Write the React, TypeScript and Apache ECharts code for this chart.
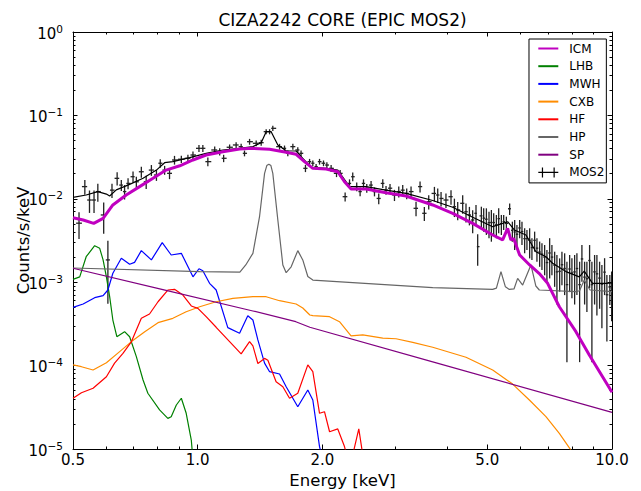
import React, { useEffect, useRef } from 'react';
import * as echarts from 'echarts';

// ---------- tick definitions ----------
const xMajorTicks = [0.5, 1, 2, 5, 10];
const xMajorLabels = ['0.5', '1.0', '2.0', '5.0', '10.0'];
const xMinorTicks = [0.6, 0.7, 0.8, 0.9, 3, 4, 6, 7, 8, 9];
const yDecades = [-5, -4, -3, -2, -1, 0];
const yDecadeLabels = ['−5', '−4', '−3', '−2', '−1', '0'];
const yMinorMultipliers = [2, 3, 4, 5, 6, 7, 8, 9];

// ---------- model components (energy keV, counts/s/keV) ----------
const icmE = [0.5, 0.529, 0.561, 0.591, 0.624, 0.672, 0.724, 0.78, 0.839, 0.905, 0.974, 1.048, 1.15, 1.262, 1.359, 1.491, 1.635, 1.728, 1.81, 1.896, 2.042, 2.178, 2.261, 2.345, 2.549, 2.848, 3.183, 3.692, 4.126, 4.61, 5.152, 5.446, 5.599, 5.7, 5.789, 5.985, 6.327, 6.677, 6.992, 7.462, 8.183, 8.815, 10];
const icmV = [5.93e-3, 5.57e-3, 5.08e-3, 5.83e-3, 8.43e-3, 1.11e-2, 1.4e-2, 1.76e-2, 2.21e-2, 2.49e-2, 2.92e-2, 3.35e-2, 3.67e-2, 3.96e-2, 4.03e-2, 3.92e-2, 3.61e-2, 3.42e-2, 2.79e-2, 2.32e-2, 2.28e-2, 2.11e-2, 1.6e-2, 1.31e-2, 1.31e-2, 1.18e-2, 1.08e-2, 8.43e-3, 6.7e-3, 5.08e-3, 3.68e-3, 3.21e-3, 4.43e-3, 3.21e-3, 3.34e-3, 2.12e-3, 1.61e-3, 1.27e-3, 9.7e-4, 5.08e-4, 2.55e-4, 1.34e-4, 4.8e-5];

const lhbE = [0.5, 0.519, 0.538, 0.564, 0.58, 0.591, 0.602, 0.613, 0.624, 0.638, 0.666, 0.685, 0.711, 0.738, 0.758, 0.809, 0.847, 0.863, 0.888, 0.913, 0.938, 0.965, 0.974];
const lhbV = [1.08e-3, 1.16e-3, 2.02e-3, 2.74e-3, 2.55e-3, 1.85e-3, 1.16e-3, 6.7e-4, 3.52e-4, 2.22e-4, 2.55e-4, 2.22e-4, 1.28e-4, 6.72e-5, 4.66e-5, 2.94e-5, 2.33e-5, 2.44e-5, 3.37e-5, 4.06e-5, 2.68e-5, 1.28e-5, 7.4e-6];

const mwhE = [0.5, 0.529, 0.564, 0.591, 0.607, 0.624, 0.654, 0.685, 0.704, 0.731, 0.773, 0.821, 0.863, 0.913, 0.974, 1.007, 1.029, 1.068, 1.108, 1.182, 1.262, 1.321, 1.359, 1.397, 1.45, 1.491, 1.576, 1.635, 1.744, 1.844, 1.896, 1.968, 2.004];
const mwhV = [5.0e-4, 5.48e-4, 6.52e-4, 6.89e-4, 8.06e-4, 1.28e-3, 1.94e-3, 1.64e-3, 1.73e-3, 2.39e-3, 1.85e-3, 2.98e-3, 2.12e-3, 2.22e-3, 1.16e-3, 1.45e-3, 1.37e-3, 9.7e-4, 8.06e-4, 2.85e-4, 2.44e-4, 3.96e-4, 3.52e-4, 2.03e-4, 1.07e-4, 8.45e-5, 7.93e-5, 5.58e-5, 3.21e-5, 5.1e-5, 3.87e-5, 1.07e-5, 7.4e-6];

const cxbE = [0.5, 0.524, 0.559, 0.602, 0.648, 0.692, 0.745, 0.802, 0.871, 0.938, 1.011, 1.108, 1.216, 1.359, 1.463, 1.576, 1.728, 1.793, 1.865, 1.896, 2.081, 2.199, 2.345, 2.503, 2.797, 3.011, 3.304, 3.692, 4.442, 5.152, 5.757, 6.317, 6.927, 7.462, 7.959, 8.58];
const cxbV = [1.02e-4, 9.7e-5, 8.85e-5, 1.08e-4, 1.47e-4, 1.94e-4, 2.55e-4, 3.27e-4, 3.69e-4, 4.43e-4, 5.08e-4, 5.83e-4, 6.41e-4, 6.7e-4, 6.7e-4, 6.0e-4, 5.48e-4, 4.91e-4, 4.04e-4, 3.97e-4, 3.86e-4, 3.36e-4, 2.27e-4, 2.33e-4, 2.13e-4, 2.1e-4, 1.9e-4, 1.66e-4, 1.26e-4, 8.85e-5, 6.0e-5, 3.87e-5, 2.44e-5, 1.54e-5, 9.7e-6, 4.2e-6];

const hfE = [0.5, 0.524, 0.559, 0.602, 0.63, 0.66, 0.692, 0.731, 0.765, 0.802, 0.847, 0.879, 0.921, 0.965, 1.001, 1.048, 1.108, 1.194, 1.273, 1.334, 1.359, 1.397, 1.45, 1.477, 1.546, 1.605, 1.666, 1.744, 1.844, 1.896, 1.968, 2.023, 2.081, 2.178, 2.261, 2.303, 2.367, 2.448, 2.503, 2.545];
const hfV = [4.06e-5, 4.73e-5, 5.35e-5, 7.36e-5, 1.07e-4, 1.4e-4, 1.94e-4, 3.69e-4, 4.16e-4, 5.83e-4, 8.06e-4, 8.22e-4, 7.02e-4, 5.19e-4, 4.86e-4, 3.86e-4, 2.88e-4, 1.94e-4, 1.38e-4, 1.94e-4, 1.72e-4, 1.06e-4, 1.22e-4, 1.16e-4, 6.41e-5, 5.58e-5, 4.06e-5, 4.66e-5, 1.02e-4, 8.45e-5, 2.68e-5, 2.8e-5, 1.61e-5, 1.74e-5, 1.07e-5, 7.4e-6, 8.5e-6, 1.74e-5, 8.5e-6, 5.6e-6];

const hpE = [0.5, 1.012, 1.264, 1.306, 1.359, 1.41, 1.45, 1.468, 1.485, 1.502, 1.518, 1.561, 1.605, 1.635, 1.681, 1.744, 1.793, 1.844, 1.896, 3.692, 5.152, 5.26, 5.395, 5.53, 5.652, 5.8, 5.919, 6.086, 6.373, 6.55, 6.677, 8.17, 8.35, 8.57, 8.85, 10];
const hpV = [1.48e-3, 1.34e-3, 1.32e-3, 1.61e-3, 2.22e-3, 6.1e-3, 2.02e-2, 2.5e-2, 2.6e-2, 2.5e-2, 2.02e-2, 5.57e-3, 1.61e-3, 1.3e-3, 1.53e-3, 2.39e-3, 1.85e-3, 1.17e-3, 1.06e-3, 8.6e-4, 8.2e-4, 8.5e-4, 1.34e-3, 8.8e-4, 8.2e-4, 8.3e-4, 1.11e-3, 9.25e-4, 1.61e-3, 9.0e-4, 8.06e-4, 7.7e-4, 7.9e-4, 1.06e-3, 8.06e-4, 7.7e-4];

const spE = [0.5, 0.824, 1.359, 1.725, 1.865, 3.692, 10];
const spV = [1.47e-3, 8.13e-4, 4.52e-4, 3.36e-4, 2.88e-4, 1.11e-4, 2.75e-5];

const modelE = [0.5, 0.538, 0.574, 0.602, 0.613, 0.636, 0.685, 0.738, 0.795, 0.832, 0.871, 0.956, 1.048, 1.15, 1.262, 1.359, 1.423, 1.463, 1.504, 1.561, 1.635, 1.728, 1.793, 1.878, 2.042, 2.178, 2.325, 2.549, 2.848, 3.183, 3.692, 4.126, 4.61, 5.152, 5.599, 5.812, 6.199, 6.327, 6.552, 6.927, 7.189, 7.741, 8.339, 8.57, 8.977, 9.666, 10];
const modelV = [1.04e-2, 1.11e-2, 1.22e-2, 1.14e-2, 1.08e-2, 1.28e-2, 1.49e-2, 1.76e-2, 2.21e-2, 2.71e-2, 2.79e-2, 3.11e-2, 3.51e-2, 3.85e-2, 4.03e-2, 4.22e-2, 4.71e-2, 6.38e-2, 6.38e-2, 4.42e-2, 3.77e-2, 3.74e-2, 3.06e-2, 2.39e-2, 2.32e-2, 2.21e-2, 1.4e-2, 1.4e-2, 1.27e-2, 1.16e-2, 9.54e-3, 7.91e-3, 6.0e-3, 4.63e-3, 5.31e-3, 4.23e-3, 3.68e-3, 3.12e-3, 2.32e-3, 2.02e-3, 1.69e-3, 1.34e-3, 1.16e-3, 1.36e-3, 9.7e-4, 9.7e-4, 9.8e-4];

// ---------- MOS2 data (energy, rate, 1-sigma error) ----------
const mosE = [0.517, 0.534, 0.548, 0.562, 0.574, 0.593, 0.607, 0.621, 0.639, 0.654, 0.666, 0.679, 0.698, 0.711, 0.731, 0.751, 0.773, 0.795, 0.812, 0.832, 0.855, 0.879, 0.913, 0.947, 0.974, 1.007, 1.029, 1.058, 1.099, 1.13, 1.155, 1.194, 1.238, 1.273, 1.297, 1.334, 1.384, 1.423, 1.463, 1.491, 1.518, 1.576, 1.62, 1.65, 1.697, 1.744, 1.776, 1.82, 1.862, 1.896, 1.931, 1.968, 2.012, 2.05, 2.099, 2.163, 2.207, 2.269, 2.325, 2.367, 2.42, 2.466, 2.513, 2.559, 2.621, 2.671, 2.735, 2.797, 2.848, 2.912, 2.985, 3.057, 3.125, 3.195, 3.273, 3.365, 3.441, 3.524, 3.611, 3.727, 3.796, 3.867, 3.974, 4.087, 4.165, 4.242, 4.361, 4.442, 4.527, 4.61, 4.696, 4.74,
  4.838, 4.901, 4.975, 5.048, 5.115, 5.181, 5.259, 5.327, 5.407, 5.477, 5.559, 5.662, 5.748, 5.822, 5.896, 5.986, 6.063, 6.154, 6.233, 6.327, 6.408, 6.505, 6.589, 6.689, 6.775, 6.877, 6.965, 7.071, 7.161, 7.27, 7.363, 7.475, 7.571, 7.686, 7.784, 7.902, 8.003, 8.124, 8.228, 8.353, 8.46, 8.588, 8.698, 8.829, 8.943, 9.078, 9.195, 9.334, 9.454, 9.597, 9.72, 9.88, 9.98];
const mosV = [5.1e-3, 1.4e-2, 9.67e-3, 9.67e-3, 1.22e-2, 6.4e-3, 1.85e-3, 1.27e-2, 1.76e-2, 1.46e-2, 1.22e-2, 1.53e-2, 1.84e-2, 1.6e-2, 2.11e-2, 1.6e-2, 2.21e-2, 1.93e-2, 2.67e-2, 2.21e-2, 2.02e-2, 2.92e-2, 2.98e-2, 3.06e-2, 3.35e-2, 4.03e-2, 4.03e-2, 2.79e-2, 3.85e-2, 3.67e-2, 3.06e-2, 4.15e-2, 4.42e-2, 4.22e-2, 3.51e-2, 4.84e-2, 4.63e-2, 4.71e-2, 6.38e-2, 6.38e-2, 7.0e-2, 4.22e-2, 4.03e-2, 3.51e-2, 4.22e-2, 3.85e-2, 3.51e-2, 2.32e-2, 2.79e-2, 2.67e-2, 2.43e-2, 2.79e-2, 2.67e-2, 2.54e-2, 2.32e-2, 2.02e-2, 2.02e-2, 1.06e-2, 1.53e-2, 1.84e-2, 1.4e-2, 1.22e-2, 1.53e-2, 1.34e-2, 1.46e-2, 1.22e-2, 1.01e-2, 1.53e-2, 1.27e-2, 1.34e-2, 1.11e-2, 1.22e-2, 1.27e-2, 1.16e-2, 1.22e-2, 7.69e-3, 1.4e-2, 6.7e-3, 9.23e-3, 1.16e-2, 1.11e-2, 1.01e-2, 9.67e-3, 1.06e-2, 8.04e-3, 7.34e-3, 8.83e-3, 7.0e-3, 6.4e-3, 5.57e-3, 6.7e-3, 2.67e-3,
  6.24e-3, 5.86e-3, 5.69e-3, 5.18e-3, 5.2e-3, 5.19e-3, 4.88e-3, 5.78e-3, 5.04e-3, 5.32e-3, 5.07e-3, 7.6e-3, 4.19e-3, 4.0e-3, 3.76e-3, 4.47e-3, 4.05e-3, 3.33e-3, 3.33e-3, 3.18e-3, 2.6e-3, 3.18e-3, 2.56e-3, 2.3e-3, 2.17e-3, 2.0e-3, 1.72e-3, 2.24e-3, 2.0e-3, 1.6e-3, 1.33e-3, 1.35e-3, 1.62e-3, 1.46e-3, 9.35e-4, 1.44e-3, 1.29e-3, 1.33e-3, 1.46e-3, 9.35e-4, 1.9e-3, 1.15e-3, 1.1e-3, 1.82e-3, 9.35e-4, 1.33e-3, 1.26e-3, 1.12e-3, 9.45e-4, 1.32e-3, 7.07e-4, 8.77e-4, 8.4e-4];
const mosErr = [1.8e-3, 2.8e-3, 2.9e-3, 2.9e-3, 3.0e-3, 2.6e-3, 1.3e-3, 2.5e-3, 3.2e-3, 2.2e-3, 2.4e-3, 2.3e-3, 2.8e-3, 2.4e-3, 3.2e-3, 2.9e-3, 3.3e-3, 2.9e-3, 3.2e-3, 2.7e-3, 3.0e-3, 3.5e-3, 3.0e-3, 3.1e-3, 3.4e-3, 4.0e-3, 4.0e-3, 3.3e-3, 3.8e-3, 3.7e-3, 3.1e-3, 3.3e-3, 3.5e-3, 3.4e-3, 2.8e-3, 3.9e-3, 3.7e-3, 3.8e-3, 4.5e-3, 4.5e-3, 4.9e-3, 3.4e-3, 3.2e-3, 2.8e-3, 3.4e-3, 3.1e-3, 2.8e-3, 2.3e-3, 2.2e-3, 2.1e-3, 1.9e-3, 2.2e-3, 2.1e-3, 2.0e-3, 2.3e-3, 2.0e-3, 2.0e-3, 1.3e-3, 1.8e-3, 2.2e-3, 1.7e-3, 1.5e-3, 1.8e-3, 1.6e-3, 1.8e-3, 1.5e-3, 1.5e-3, 1.8e-3, 1.5e-3, 1.6e-3, 1.7e-3, 1.8e-3, 1.9e-3, 1.7e-3, 1.8e-3, 1.5e-3, 2.1e-3, 1.3e-3, 1.8e-3, 2.3e-3, 2.2e-3, 2.0e-3, 1.9e-3, 2.1e-3, 2.0e-3, 1.8e-3, 2.2e-3, 1.8e-3, 1.6e-3, 1.7e-3, 1.7e-3, 1.1e-3,
  1.8e-3, 1.83e-3, 2.0e-3, 1.82e-3, 2.14e-3, 1.51e-3, 1.52e-3, 1.92e-3, 1.36e-3, 1.09e-3, 1.04e-3, 1.2e-3, 1.13e-3, 1.57e-3, 1.09e-3, 1.1e-3, 1.26e-3, 1.1e-3, 9.0e-4, 1.25e-3, 7.6e-4, 8.6e-4, 8.0e-4, 7.7e-4, 7.7e-4, 7.9e-4, 7.1e-4, 1.13e-3, 7.9e-4, 7.2e-4, 7.9e-4, 5.8e-4, 7.0e-4, 7.6e-4, 8.25e-4, 6.8e-4, 6.5e-4, 7.9e-4, 7.6e-4, 8.25e-4, 8.9e-4, 6.1e-4, 6.6e-4, 9.7e-4, 8.25e-4, 7.9e-4, 8.6e-4, 6.4e-4, 6.65e-4, 6.2e-4, 5.13e-4, 3.44e-4, 5.0e-4];

const FONT = 'DejaVu Sans';
const L = (v: number) => Math.log10(v);
const pairs = (es: number[], vs: number[]) => es.map((e, i) => [L(e), L(vs[i])]);

export default function App() {
  const ref = useRef<HTMLDivElement>(null);

  useEffect(() => {
    if (!ref.current) return;
    const chart = echarts.init(ref.current, null, { renderer: 'svg' });

    const xMaj = xMajorTicks.map(L);
    const xMin = xMinorTicks.map(L);
    const yMaj = yDecades.slice();
    const yMin: number[] = [];
    yDecades.slice(0, -1).forEach((d) => yMinorMultipliers.forEach((m) => yMin.push(d + L(m))));

    const n = mosE.length;
    const lx = mosE.map(L);
    const mosData = mosE.map((_, i) => {
      const x = lx[i];
      const xl = i > 0 ? (lx[i - 1] + x) / 2 : x - (lx[1] - lx[0]) / 2;
      const xr = i < n - 1 ? (x + lx[i + 1]) / 2 : x + (x - lx[i - 1]) / 2;
      const lo = mosV[i] - mosErr[i];
      return [x, L(mosV[i]), lo > 0 ? L(lo) : -7, L(mosV[i] + mosErr[i]), xl, xr];
    });

    const xBase = {
      type: 'value',
      min: L(0.5),
      max: 1,
      gridIndex: 0,
      splitLine: { show: false },
      axisPointer: { show: false },
    };
    const yBase = {
      type: 'value',
      min: -5,
      max: 0,
      gridIndex: 0,
      splitLine: { show: false },
      axisPointer: { show: false },
    };
    const axisLine = { show: true, onZero: false, lineStyle: { color: '#000', width: 1 } };
    const noLine = { show: false, onZero: false };
    const tick = (vals: number[], len: number) => ({
      show: true,
      inside: true,
      length: len,
      customValues: vals,
      lineStyle: { color: '#000', width: 1 },
    });

    const xFormatter = (v: number) => {
      const i = xMaj.findIndex((t) => Math.abs(t - v) < 1e-6);
      return i >= 0 ? xMajorLabels[i] : '';
    };
    const yFormatter = (v: number) => {
      const i = yMaj.findIndex((t) => Math.abs(t - v) < 1e-6);
      return i >= 0 ? `{b|10}{s|${yDecadeLabels[i]}}` : '';
    };

    const line = (name: string, es: number[], vs: number[], color: string, width: number, z: number) => ({
      name,
      type: 'line',
      data: pairs(es, vs),
      showSymbol: false,
      symbol: 'none',
      lineStyle: { color, width },
      itemStyle: { color },
      clip: true,
      silent: true,
      z,
      emphasis: { disabled: true },
    });

    const lineLegend = (name: string) => ({ name, itemStyle: { opacity: 0 } });

    const option: any = {
      animation: false,
      backgroundColor: '#fff',
      grid: { left: 73, right: 29, top: 32, bottom: 42, containLabel: false, outerBoundsMode: 'none' },
      graphic: [
        {
          type: 'text',
          x: 342.5,
          y: 20,
          style: {
            text: 'CIZA2242 CORE (EPIC MOS2)',
            fontSize: 17,
            fontFamily: FONT,
            fill: '#000',
            align: 'center',
            verticalAlign: 'middle',
          },
        },
      ],
      xAxis: [
        {
          ...xBase,
          position: 'bottom',
          axisLine,
          axisTick: tick(xMaj, 4.5),
          axisLabel: { show: true, customValues: xMaj, formatter: xFormatter, margin: 3, color: '#000', fontSize: 15, fontFamily: FONT },
          name: 'Energy [keV]',
          nameLocation: 'middle',
          nameGap: 23,
          nameTextStyle: { color: '#000', fontSize: 16.5, fontFamily: FONT },
        },
        { ...xBase, position: 'bottom', axisLine: noLine, axisTick: tick(xMin, 2.5), axisLabel: { show: false } },
        { ...xBase, position: 'top', axisLine, axisTick: tick(xMaj, 4.5), axisLabel: { show: false } },
        { ...xBase, position: 'top', axisLine: noLine, axisTick: tick(xMin, 2.5), axisLabel: { show: false } },
      ],
      yAxis: [
        {
          ...yBase,
          position: 'left',
          axisLine,
          axisTick: tick(yMaj, 4.5),
          axisLabel: {
            show: true,
            customValues: yMaj,
            formatter: yFormatter,
            margin: 10,
            color: '#000',
            rich: {
              b: { fontSize: 15, fontFamily: FONT, color: '#000', lineHeight: 18, verticalAlign: 'bottom' },
              s: { fontSize: 10.5, fontFamily: FONT, color: '#000', lineHeight: 12, verticalAlign: 'top' },
            },
          },
          name: 'Counts/s/keV',
          nameLocation: 'middle',
          nameGap: 41,
          nameMoveOverlap: false,
          nameTextStyle: { color: '#000', fontSize: 16.5, fontFamily: FONT },
        },
        { ...yBase, position: 'left', axisLine: noLine, axisTick: tick(yMin, 2.5), axisLabel: { show: false } },
        { ...yBase, position: 'right', axisLine, axisTick: tick(yMaj, 4.5), axisLabel: { show: false } },
        { ...yBase, position: 'right', axisLine: noLine, axisTick: tick(yMin, 2.5), axisLabel: { show: false } },
      ],
      legend: {
        show: true,
        left: 529,
        top: 39,
        orient: 'vertical',
        backgroundColor: '#fff',
        borderColor: '#000',
        borderWidth: 1,
        borderRadius: 0,
        padding: [2.5, 2, 3.5, 8.3],
        itemGap: 3.7,
        itemWidth: 20,
        itemHeight: 12,
        selectedMode: false,
        textStyle: { fontSize: 12, fontFamily: FONT, color: '#000', lineHeight: 14, padding: [0, 0, 0, 6] },
        data: [
          lineLegend('ICM'),
          lineLegend('LHB'),
          lineLegend('MWH'),
          lineLegend('CXB'),
          lineLegend('HF'),
          lineLegend('HP'),
          lineLegend('SP'),
          {
            name: 'MOS2',
            icon: 'path://M0,6L24,6M5,0L5,12M19,0L19,12',
            itemStyle: { color: 'rgba(0,0,0,0)', borderColor: '#000', borderWidth: 1.2 },
          },
        ],
      },
      series: [
        {
          name: 'MOS2',
          type: 'custom',
          data: mosData,
          encode: { x: 0, y: 1 },
          clip: true,
          silent: true,
          z: 2,
          itemStyle: { color: '#000' },
          renderItem: (_params: any, api: any) => {
            const c = api.coord([api.value(0), api.value(1)]);
            const lo = api.coord([api.value(0), api.value(2)]);
            const hi = api.coord([api.value(0), api.value(3)]);
            const l = api.coord([api.value(4), api.value(1)]);
            const r = api.coord([api.value(5), api.value(1)]);
            return {
              type: 'group',
              children: [
                { type: 'line', shape: { x1: c[0], y1: hi[1], x2: c[0], y2: lo[1] }, style: { stroke: '#222', lineWidth: 1.3 } },
                { type: 'line', shape: { x1: l[0], y1: c[1], x2: r[0], y2: c[1] }, style: { stroke: '#222', lineWidth: 1.3 } },
              ],
            };
          },
        },
        line('LHB', lhbE, lhbV, '#008000', 1.2, 3),
        line('MWH', mwhE, mwhV, '#0000ff', 1.2, 3),
        line('CXB', cxbE, cxbV, '#ff8c00', 1.2, 3),
        line('HF', hfE, hfV, '#ff0000', 1.2, 3),
        line('HP', hpE, hpV, '#666666', 1.2, 3),
        line('SP', spE, spV, '#800080', 1.2, 3),
        line('Model', modelE, modelV, '#000000', 1.2, 3),
        line('ICM', icmE, icmV, '#c000c0', 3, 4),
      ],
    };

    chart.setOption(option);
    return () => chart.dispose();
  }, []);

  return <div ref={ref} style={{ position: 'fixed', left: 0, top: 0, width: 641, height: 491 }} />;
}
